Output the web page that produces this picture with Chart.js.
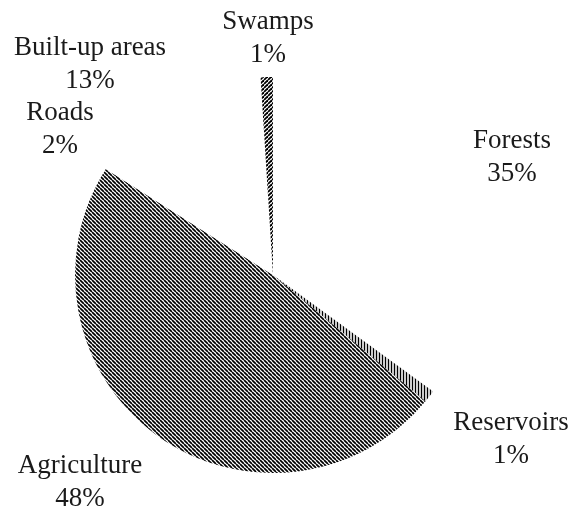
<!DOCTYPE html>
<html>
<head>
<meta charset="utf-8">
<script src="https://cdn.jsdelivr.net/npm/chart.js@4"></script>
<style>
  html, body { margin: 0; padding: 0; background: #fff; }
  #wrap { width: 571px; height: 508px; position: relative; }
</style>
</head>
<body>
<div id="wrap"><canvas id="landuse__chart"></canvas></div>
<script>
// land use shares, clockwise from 12 o'clock
const categories = ["Forests", "Reservoirs", "Agriculture", "Roads", "Built-up areas", "Swamps"]
const shares = [35, 1, 48, 2, 13, 1]

// where each label sits: [centre x, baseline of first line]
const labelSpots = [
  [512, 148],
  [511, 430],
  [80, 473],
  [60, 120],
  [90, 55],
  [268, 29],
]

function hatch(size, dir, width) {
  const tile = document.createElement("canvas")
  tile.width = size
  tile.height = size
  const c = tile.getContext("2d")
  c.strokeStyle = "#000"
  c.lineWidth = width
  if (dir === "vert") {
    c.beginPath()
    c.moveTo(size / 2, 0)
    c.lineTo(size / 2, size)
    c.stroke()
    return c.createPattern(tile, "repeat")
  }
  for (let k = -1; k <= 1; k++) {
    c.beginPath()
    if (dir === "back") {
      c.moveTo(k * size, 0)
      c.lineTo(k * size + size, size)
    } else {
      c.moveTo(k * size, size)
      c.lineTo(k * size + size, 0)
    }
    c.stroke()
  }
  return c.createPattern(tile, "repeat")
}

const fills = [
  "#ffffff",
  hatch(3, "vert", 1.4),
  hatch(4, "back", 1.7),
  "#ffffff",
  "#ffffff",
  hatch(4, "fwd", 1.8),
]

const labelPlugin = {
  id: "labels",
  afterDraw(chart) {
    const ctx = chart.ctx
    ctx.save()
    ctx.fillStyle = "#1a1a1a"
    ctx.font = "27px 'Liberation Serif', 'Times New Roman', serif"
    ctx.textAlign = "center"
    ctx.textBaseline = "alphabetic"
    categories.forEach((name, i) => {
      const [x, y] = labelSpots[i]
      ctx.fillText(name, x, y)
      ctx.fillText(shares[i] + "%", x, y + 33)
    })
    ctx.restore()
  },
}

const canvas = document.getElementById("landuse__chart")
new Chart(canvas, {
  type: "pie",
  data: {
    labels: categories,
    datasets: [
      {
        data: shares,
        backgroundColor: fills,
        borderWidth: 0,
      },
    ],
  },
  options: {
    responsive: true,
    maintainAspectRatio: false,
    animation: false,
    layout: {
      padding: { left: 75, right: 100, top: 77, bottom: 35 },
    },
    plugins: {
      legend: { display: false },
      tooltip: { enabled: false },
    },
  },
  plugins: [labelPlugin],
})
</script>
</body>
</html>
